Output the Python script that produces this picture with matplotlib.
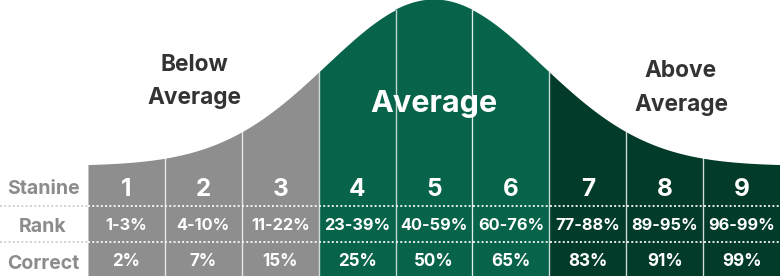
import numpy as np
import matplotlib.pyplot as plt

plt.rcParams['font.family'] = ['Inter', 'DejaVu Sans']

# data
stanines = [1, 2, 3, 4, 5, 6, 7, 8, 9]
ranks = ['1-3%', '4-10%', '11-22%', '23-39%', '40-59%', '60-76%', '77-88%', '89-95%', '96-99%']
correct = ['2%', '7%', '15%', '25%', '50%', '65%', '83%', '91%', '99%']
groups = ['below'] * 3 + ['average'] * 3 + ['above'] * 3
row_labels = ['Stanine', 'Rank', 'Correct']

colors = {'below': '#8e8e8e', 'average': '#07634a', 'above': '#033b2b'}

# bell curve shape (decorative normal curve)
mu, sigma = 5.0, 1.4
base, peak = 165.5, 166.0


def curve_top(x):
    return base - peak * np.exp(-(x - mu) ** 2 / (2 * sigma ** 2))


fig = plt.figure(figsize=(7.8, 2.76), dpi=100)
ax = fig.add_axes([0, 0, 1, 1])
ax.set_xlim(-0.644, 9.5)
ax.set_ylim(276, 0)
ax.axis('off')

# columns under the curve
for s, g in zip(stanines, groups):
    xs = np.linspace(s - 0.5, s + 0.5, 200)
    ax.fill_between(xs, curve_top(xs), 276, color=colors[g], lw=0)

# dividers
for s in stanines[:-1]:
    xb = s + 0.5
    ax.plot([xb, xb], [curve_top(xb), 276], color='white', lw=1.0, alpha=0.75)

# dotted row lines
for yl in [205.5, 242]:
    ax.plot([0.5, 9.5], [yl, yl], color='white', lw=1.4, ls=(0, (1, 1.2)), alpha=0.9)
    ax.plot([-0.644, 0.5], [yl, yl], color='#d2d2d2', lw=1.4, ls=(0, (1, 1.2)))

# table text
for s, r, c in zip(stanines, ranks, correct):
    ax.text(s, 196, str(s), color='white', fontsize=17.5, fontweight='bold',
            ha='center', va='baseline')
    ax.text(s, 230, r, color='white', fontsize=11.8, fontweight='bold',
            ha='center', va='baseline')
    ax.text(s, 266, c, color='white', fontsize=12.3, fontweight='bold',
            ha='center', va='baseline')

for lab, yb in zip(row_labels, [194.3, 231.5, 269]):
    ax.text(-0.085, yb, lab, color='#8c8c8c', fontsize=14, fontweight='bold',
            ha='center', va='baseline')

# group headings
ax.text(1.879, 71, 'Below', color='#333333', fontsize=16.3, fontweight='bold',
        ha='center', va='baseline')
ax.text(1.879, 104, 'Average', color='#333333', fontsize=16.3, fontweight='bold',
        ha='center', va='baseline')
ax.text(8.212, 77, 'Above', color='#333333', fontsize=16.3, fontweight='bold',
        ha='center', va='baseline')
ax.text(8.212, 111, 'Average', color='#333333', fontsize=16.3, fontweight='bold',
        ha='center', va='baseline')
ax.text(5.0, 112, 'Average', color='white', fontsize=22, fontweight='bold',
        ha='center', va='baseline')

fig.savefig('out.png', dpi=100)
